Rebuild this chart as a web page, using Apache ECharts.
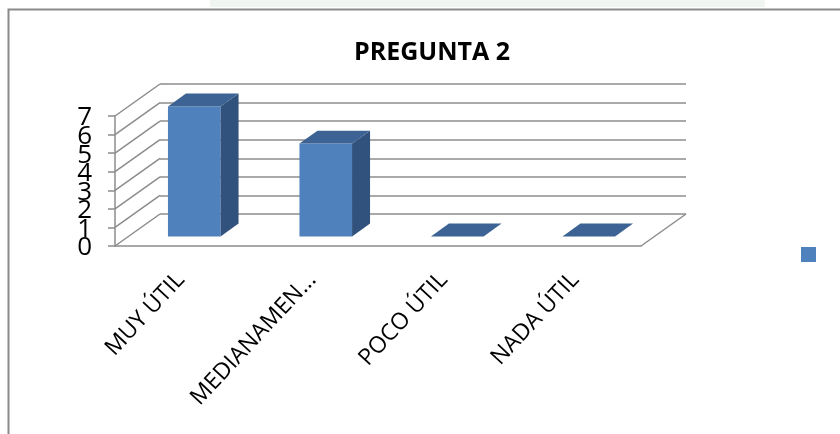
<!DOCTYPE html>
<html>
<head>
<meta charset="utf-8">
<script src="https://cdn.jsdelivr.net/npm/echarts@6/dist/echarts.min.js"></script>
<style>
  html, body { margin: 0; padding: 0; background: #ffffff; }
  #chart { width: 840px; height: 434px; }
</style>
</head>
<body>
<div id="chart"></div>
<script>
// Survey answers for question 2
const categories = ['MUY ÚTIL', 'MEDIANAMENTE ÚTIL', 'POCO ÚTIL', 'NADA ÚTIL'];
const values = [7, 5, 0, 0];
const yTicks = [0, 1, 2, 3, 4, 5, 6, 7];
const titleText = 'PREGUNTA 2';
const seriesName = ' ';

// Perspective offset from the front plane to the back wall (px)
const DEPTH = [45, -32];
// Bars sit between these fractions of the depth, and span 40% of a category
const BAR_FRONT = 0.3, BAR_BACK = 0.7, BAR_HALF = 0.2;

const FRONT = { left: 115, top: 116, width: 526, height: 130 };
const BACK = { left: FRONT.left + DEPTH[0], top: FRONT.top + DEPTH[1], width: FRONT.width, height: FRONT.height };

const LINE = '#8c8c8c';
const FONT = 'Open Sans';
const COLOR_FRONT = '#4F81BD', COLOR_SIDE = '#31527D', COLOR_TOP = '#3C6393';

const chart = echarts.init(document.getElementById('chart'));

function shift(p, f) {
  return [p[0] + DEPTH[0] * f, p[1] + DEPTH[1] * f];
}

// Side wall diagonals, the floor's right edge and the value labels
// (labels are packed tightly, so they are drawn here to keep every one)
function renderWall(params, api) {
  const v = api.value(1);
  const cs = params.coordSys;
  const y = api.coord([0, v])[1];
  const children = [{
    type: 'line',
    shape: { x1: cs.x, y1: y, x2: cs.x + DEPTH[0], y2: y + DEPTH[1] },
    style: { stroke: LINE, lineWidth: 1.5 }
  }, {
    type: 'text',
    x: cs.x - 23,
    y: y + 2,
    style: {
      text: String(v),
      fontFamily: FONT,
      fontSize: 26,
      fill: '#000000',
      align: 'right',
      verticalAlign: 'middle'
    }
  }];
  if (v === 0) {
    children.push({
      type: 'line',
      shape: { x1: cs.x + cs.width, y1: y, x2: cs.x + cs.width + DEPTH[0], y2: y + DEPTH[1] },
      style: { stroke: LINE, lineWidth: 1.5 }
    });
  }
  return { type: 'group', children };
}

// 3D box: front face, right side and top
function renderBar(params, api) {
  const i = api.value(0);
  const base = api.coord([i, 0]);
  const top = api.coord([i, api.value(1)]);
  const band = api.size([1, 0])[0];
  const x0 = base[0] - band * BAR_HALF, x1 = base[0] + band * BAR_HALF;
  const yb = base[1], yt = top[1];
  const fbl = shift([x0, yb], BAR_FRONT), fbr = shift([x1, yb], BAR_FRONT);
  const ftl = shift([x0, yt], BAR_FRONT), ftr = shift([x1, yt], BAR_FRONT);
  const bbr = shift([x1, yb], BAR_BACK), btr = shift([x1, yt], BAR_BACK), btl = shift([x0, yt], BAR_BACK);
  const children = [];
  if (yb - yt > 0.5) {
    children.push({ type: 'polygon', shape: { points: [fbl, fbr, ftr, ftl] }, style: { fill: COLOR_FRONT } });
    children.push({ type: 'polygon', shape: { points: [fbr, bbr, btr, ftr] }, style: { fill: COLOR_SIDE } });
  }
  children.push({ type: 'polygon', shape: { points: [ftl, ftr, btr, btl] }, style: { fill: COLOR_TOP } });
  return { type: 'group', children };
}

const option = {
  animation: false,
  backgroundColor: '#ffffff',
  title: {
    text: titleText,
    left: 427,
    top: 35,
    textAlign: 'center',
    textStyle: { fontFamily: FONT, fontWeight: 'bold', fontSize: 25, color: '#000000' }
  },
  legend: {
    data: [{ name: seriesName, icon: 'rect' }],
    left: 801,
    top: 247,
    padding: 0,
    itemWidth: 15,
    itemHeight: 15,
    itemGap: 0,
    formatter: () => '',
    selectedMode: false
  },
  grid: [
    Object.assign({ containLabel: false }, FRONT),
    Object.assign({ containLabel: false }, BACK)
  ],
  xAxis: [{
    type: 'category',
    gridIndex: 0,
    data: categories,
    axisLine: { lineStyle: { color: LINE, width: 1.5 } },
    axisTick: { length: 6, lineStyle: { color: LINE, width: 1.5 } },
    axisLabel: {
      rotate: 47,
      margin: 30,
      interval: 0,
      fontFamily: FONT,
      fontSize: 23,
      color: '#000000',
      width: 178,
      overflow: 'truncate',
      ellipsis: '...'
    },
    splitLine: { show: false }
  }, {
    type: 'category',
    gridIndex: 1,
    data: categories,
    show: false
  }],
  yAxis: [{
    type: 'value',
    gridIndex: 0,
    min: 0,
    max: 7,
    interval: 1,
    axisLine: { show: true, lineStyle: { color: LINE, width: 1.5 } },
    axisTick: { show: true, length: 7, lineStyle: { color: LINE, width: 1.5 } },
    axisLabel: { show: false },
    splitLine: { show: false }
  }, {
    type: 'value',
    gridIndex: 1,
    min: 0,
    max: 7,
    interval: 1,
    axisLine: { show: false },
    axisTick: { show: false },
    axisLabel: { show: false },
    splitLine: { show: true, lineStyle: { color: LINE, width: 1.5 } }
  }],
  series: [{
    type: 'custom',
    name: 'wall',
    xAxisIndex: 0,
    yAxisIndex: 0,
    silent: true,
    clip: false,
    renderItem: renderWall,
    data: yTicks.map(v => [0, v]),
    z: 1
  }, {
    type: 'custom',
    name: seriesName,
    xAxisIndex: 0,
    yAxisIndex: 0,
    itemStyle: { color: COLOR_FRONT },
    renderItem: renderBar,
    encode: { x: 0, y: 1 },
    data: values.map((v, i) => [i, v]),
    z: 3
  }],
  graphic: [{
    type: 'rect',
    shape: { x: 210, y: 0, width: 555, height: 7 },
    style: { fill: '#f1f5f2' },
    silent: true,
    z: -2
  }, {
    type: 'rect',
    shape: { x: 8.5, y: 9.5, width: 900, height: 500 },
    style: { fill: 'none', stroke: '#8a8a8a', lineWidth: 2 },
    silent: true,
    z: -1
  }]
};

chart.setOption(option);
</script>
</body>
</html>
